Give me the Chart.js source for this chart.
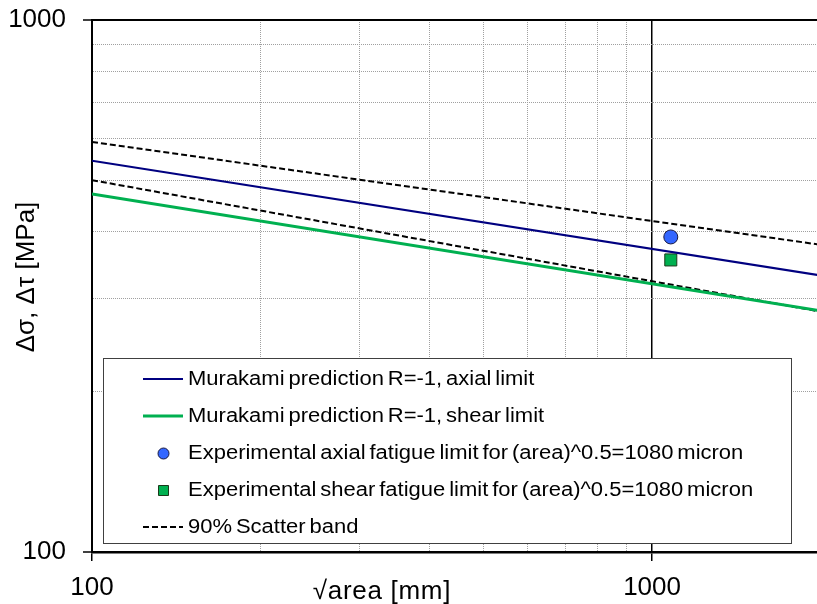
<!DOCTYPE html>
<html>
<head>
<meta charset="utf-8">
<script src="https://cdn.jsdelivr.net/npm/chart.js@4.4.0/dist/chart.umd.min.js"></script>
<style>
  body { margin: 0; background: #fff; }
  #wrap { width: 817px; height: 604px; }
</style>
</head>
<body>
<div id="wrap"><canvas id="myChart" width="817" height="604"></canvas></div>
<script>
// values (x = sqrt(area), y = stress amplitude in MPa)
const lineX = [100, 2000]
const axialLimit = [544, 331]
const shearLimit = [471, 284]
const bandUpper = [590, 378]
const bandLower = [500, 283]
const expX = [1080]
const expAxial = [391]
const expShear = [354]
const tickLabels = [100, 1000]

const labels = [
    'Murakami prediction R=-1, axial limit',
    'Murakami prediction R=-1, shear limit',
    'Experimental axial fatigue limit for (area)^0.5=1080 micron',
    'Experimental shear fatigue limit for (area)^0.5=1080 micron',
    '90% Scatter band'
]

const font = 'Liberation Sans, Arial, sans-serif'

function pts(xs, ys) {
    return xs.map((x, i) => ({ x: x, y: ys[i] }))
}

function isMajor(ctx) {
    if (!ctx.tick) return false
    return tickLabels.includes(ctx.tick.value)
}
function isGrid(ctx) {
    if (!ctx.tick) return false
    let v = ctx.tick.value
    let m = v / Math.pow(10, Math.floor(Math.log10(v) + 1e-9))
    return Math.abs(m - Math.round(m)) < 1e-6
}

function gridOpts() {
    return {
        color: (ctx) => isMajor(ctx) ? '#000' : (isGrid(ctx) ? '#a0a0a0' : 'rgba(0,0,0,0)'),
        lineWidth: (ctx) => isMajor(ctx) ? 1.5 : 1,
        tickColor: (ctx) => isMajor(ctx) ? '#000' : 'rgba(0,0,0,0)',
        tickLength: 9,
        tickWidth: 1.5
    }
}

// no extra room for half tick labels, the plot goes right to the edge
function noPad(s) {
    s.paddingTop = 0
    s.paddingBottom = 0
    s.paddingLeft = 0
    s.paddingRight = 0
}

// legend box drawn inside the plot, like the original
const boxLegend = {
    id: 'boxLegend',
    afterDatasetsDraw(chart) {
        const c = chart.ctx
        const left = 103, top = 358, right = 791, bottom = 543
        c.save()
        c.fillStyle = '#fff'
        c.fillRect(left, top, right - left, bottom - top)
        c.strokeStyle = '#404040'
        c.lineWidth = 1
        c.strokeRect(left + 0.5, top + 0.5, right - left, bottom - top)

        const ds = chart.data.datasets
        for (let i = 0; i < 5; i++) {
            let d = ds[i]
            let y = 379 + i * 37
            c.save()
            if (d.pointRadius > 0) {
                c.fillStyle = d.backgroundColor
                c.strokeStyle = d.borderColor
                c.lineWidth = 1
                c.beginPath()
                if (d.pointStyle == 'rect') {
                    c.rect(158.5, y - 4.5, 10, 10)
                } else {
                    c.arc(163.5, y + 0.5, 5.5, 0, Math.PI * 2)
                }
                c.fill()
                c.stroke()
            } else {
                c.strokeStyle = d.borderColor
                c.lineWidth = d.borderWidth
                c.setLineDash(d.borderDash || [])
                c.beginPath()
                c.moveTo(143, y)
                c.lineTo(183, y)
                c.stroke()
            }
            c.restore()
            // text in the original is a bit wide with tight word gaps
            c.save()
            c.translate(188, y)
            c.scale(1.1, 1)
            c.fillStyle = '#000'
            c.font = '20px ' + font
            c.wordSpacing = '-2px'
            c.textBaseline = 'middle'
            c.textAlign = 'left'
            c.fillText(labels[i], 0, 0)
            c.restore()
        }

        c.restore()
    }
}

// axis titles sit where the original put them (not centred on the plot)
const axisTitles = {
    id: 'axisTitles',
    afterDraw(chart) {
        const c = chart.ctx
        c.save()
        c.fillStyle = '#000'
        c.font = '26px ' + font
        c.textAlign = 'center'
        c.textBaseline = 'alphabetic'
        c.letterSpacing = '0.7px'
        c.fillText('√area [mm]', 382, 599)
        c.letterSpacing = '0px'
        c.translate(27, 277)
        c.rotate(-Math.PI / 2)
        c.textBaseline = 'middle'
        c.fillText('Δσ, Δτ [MPa]', 0, 0)
        c.restore()
    }
}

const ctx = document.getElementById('myChart').getContext('2d')
const myChart = new Chart(ctx, {
    type: 'scatter',
    data: {
        datasets: [{
            label: labels[0],
            data: pts(lineX, axialLimit),
            showLine: true,
            borderColor: '#000080',
            borderWidth: 2,
            pointRadius: 0
        }, {
            label: labels[1],
            data: pts(lineX, shearLimit),
            showLine: true,
            borderColor: '#00b050',
            borderWidth: 3,
            pointRadius: 0
        }, {
            label: labels[2],
            data: pts(expX, expAxial),
            pointStyle: 'circle',
            pointRadius: 7,
            backgroundColor: '#3366ff',
            borderColor: '#1a1a40',
            borderWidth: 1
        }, {
            label: labels[3],
            data: pts(expX, expShear),
            pointStyle: 'rect',
            pointRadius: 8.5,
            backgroundColor: '#00b050',
            borderColor: '#1a3a1a',
            borderWidth: 1
        }, {
            label: labels[4],
            data: pts(lineX, bandUpper),
            showLine: true,
            borderColor: '#000',
            borderWidth: 2,
            borderDash: [6, 3],
            pointRadius: 0
        }, {
            label: '90% Scatter band (lower)',
            data: pts(lineX, bandLower),
            showLine: true,
            borderColor: '#000',
            borderWidth: 2,
            borderDash: [6, 3],
            pointRadius: 0
        }]
    },
    options: {
        responsive: false,
        animation: false,
        layout: { autoPadding: false, padding: { top: 20, right: 0, left: 0, bottom: 0 } },
        plugins: {
            legend: { display: false },
            tooltip: { enabled: false }
        },
        scales: {
            x: {
                type: 'logarithmic',
                min: 100,
                max: 1970,
                afterFit: (s) => { s.height = 52; noPad(s) },
                grid: gridOpts(),
                border: { color: '#000', width: 2.5, dash: (ctx) => (isMajor(ctx) || !ctx.tick) ? [] : [1, 1] },
                ticks: {
                    autoSkip: false,
                    maxRotation: 0,
                    padding: 11,
                    color: '#000',
                    font: { family: font, size: 26 },
                    callback: (v) => tickLabels.includes(v) ? String(v) : ''
                }
            },
            y: {
                type: 'logarithmic',
                min: 100,
                max: 1000,
                afterFit: (s) => { s.width = 92; noPad(s) },
                grid: Object.assign(gridOpts(), { lineWidth: (ctx) => isMajor(ctx) ? 2 : 1 }),
                border: { color: '#000', width: 2, dash: (ctx) => (isMajor(ctx) || !ctx.tick) ? [] : [1, 1] },
                ticks: {
                    autoSkip: false,
                    padding: 17,
                    color: '#000',
                    font: { family: font, size: 26 },
                    callback: (v) => tickLabels.includes(v) ? String(v) : ''
                }
            }
        }
    },
    plugins: [boxLegend, axisTitles]
})
</script>
</body>
</html>
